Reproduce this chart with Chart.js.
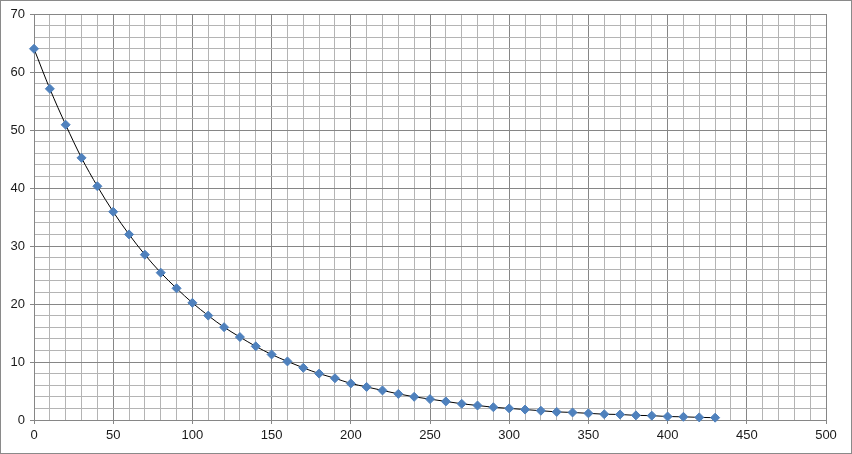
<!DOCTYPE html>
<html>
<head>
<meta charset="utf-8">
<script src="https://cdn.jsdelivr.net/npm/chart.js@4"></script>
<style>
  body { margin: 0; background: #fff; }
  #wrap { width: 852px; height: 454px; }
</style>
</head>
<body>
<div id="wrap"><canvas id="decayChart" width="852" height="454"></canvas></div>
<script>
// x positions of the measurements
var xValues = [0, 10, 20, 30, 40, 50, 60, 70, 80, 90,
  100, 110, 120, 130, 140, 150, 160, 170, 180, 190,
  200, 210, 220, 230, 240, 250, 260, 270, 280, 290,
  300, 310, 320, 330, 340, 350, 360, 370, 380, 390,
  400, 410, 420, 430];
var yValues = [64, 57.1, 50.9, 45.2, 40.3, 35.9, 32.0, 28.5, 25.4, 22.7,
  20.2, 18.0, 16.0, 14.3, 12.7, 11.3, 10.1, 9.0, 8.0, 7.2,
  6.3, 5.7, 5.1, 4.5, 4.0, 3.6, 3.2, 2.8, 2.5, 2.2,
  2.0, 1.8, 1.6, 1.4, 1.3, 1.15, 1.0, 0.95, 0.8, 0.75,
  0.6, 0.55, 0.45, 0.4];

var points = xValues.map(function (x, i) {
  return { x: x, y: yValues[i] };
});

var majorGrid = "#868686";
var minorGrid = "#b4b4b4";

// outer frame around the whole chart
var framePlugin = {
  id: "frame",
  afterDraw: function (chart) {
    var c = chart.ctx;
    c.save();
    c.strokeStyle = "#8a8a8a";
    c.lineWidth = 1;
    c.strokeRect(0.5, 0.5, chart.width - 1, chart.height - 1);
    c.restore();
  },
  beforeDraw: function (chart) {
    var c = chart.ctx;
    c.save();
    c.fillStyle = "#fff";
    c.fillRect(0, 0, chart.width, chart.height);
    c.restore();
  }
};

var ctx = document.getElementById("decayChart").getContext("2d");

var myChart = new Chart(ctx, {
  type: "scatter",
  data: {
    datasets: [
      {
        data: points,
        showLine: true,
        clip: false,
        borderColor: "#000",
        borderWidth: 1,
        tension: 0.4,
        cubicInterpolationMode: "monotone",
        pointStyle: "rectRot",
        pointRadius: 4.5,
        pointBackgroundColor: "#4f81bd",
        pointBorderColor: "#4f81bd",
        pointBorderWidth: 1,
      },
    ],
  },
  options: {
    responsive: false,
    animation: false,
    layout: {
      padding: { left: 0, top: 14, right: 26, bottom: 0 },
    },
    plugins: {
      legend: { display: false },
      tooltip: { enabled: false },
    },
    scales: {
      x: {
        type: "linear",
        min: 0,
        max: 500,
        afterFit: function (scale) { scale.height = 34; },
        border: { display: true, color: majorGrid },
        grid: {
          color: function (c) { return c.tick.value % 50 === 0 ? majorGrid : minorGrid; },
          tickColor: function (c) { return c.tick.value % 50 === 0 ? majorGrid : "rgba(0,0,0,0)"; },
          tickLength: 4,
        },
        ticks: {
          stepSize: 10,
          autoSkip: false,
          maxRotation: 0,
          padding: 4,
          color: "#1a1a1a",
          font: { family: "Liberation Sans", size: 13 },
          callback: function (v) { return v % 50 === 0 ? v : ""; },
        },
      },
      y: {
        type: "linear",
        min: 0,
        max: 70,
        afterFit: function (scale) { scale.width = 34; },
        border: { display: true, color: majorGrid },
        grid: {
          color: function (c) { return c.tick.value % 10 === 0 ? majorGrid : minorGrid; },
          tickColor: function (c) { return c.tick.value % 10 === 0 ? majorGrid : "rgba(0,0,0,0)"; },
          tickLength: 4,
        },
        ticks: {
          stepSize: 2,
          autoSkip: false,
          padding: 5,
          color: "#1a1a1a",
          font: { family: "Liberation Sans", size: 13 },
          callback: function (v) { return v % 10 === 0 ? v : ""; },
        },
      },
    },
  },
  plugins: [framePlugin],
});
</script>
</body>
</html>
